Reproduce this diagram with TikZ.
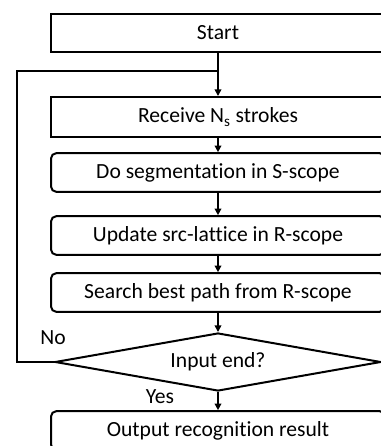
\documentclass[tikz,border=0pt]{standalone}
\usepackage{fontspec}
\setmainfont{Carlito}[Ligatures={NoCommon,NoRare,NoContextual}]
\usetikzlibrary{shapes.geometric,arrows.meta}
\tikzset{
  txt/.style={font=\fontsize{16.2pt}{19pt}\selectfont},
  boxsq/.style={draw, txt, line width=1.5pt, minimum width=250.5pt, minimum height=29pt, inner sep=0pt},
  boxrd/.style={boxsq, rounded corners=4pt},
  dec/.style={draw, txt, line width=1.5pt, diamond, aspect=6, inner sep=0pt, minimum width=244.5pt, minimum height=43.5pt},
  flow/.style={line width=1.2pt, -{Triangle[length=5pt,width=5pt]}},
  back/.style={line width=1pt},
  lbl/.style={txt, inner sep=0pt}
}
\begin{document}
\begin{tikzpicture}[x=0.75pt,y=-0.75pt]
\useasboundingbox (0,0) rectangle (380,446);
\node[boxsq] (start) at (218,33) {Start};
\node[boxsq, minimum height=30pt] (recv) at (218,117) {Receive N\textsubscript{s} strokes};
\node[boxrd] (seg) at (218,172.5) {Do segmentation in S-scope};
\node[boxrd] (upd) at (218,235.5) {Update src-lattice in R-scope};
\node[boxrd] (srch) at (218,292.5) {Search best path from R-scope};
\node[dec] (dec) at (218,362) {Input end?};
\node[boxrd] (out) at (218,430.5) {Output recognition result};
\coordinate (join) at (218,71);
\coordinate (lc) at (17,71);
\draw[flow] (start.south) -- (recv.north);
\draw[flow] (recv.south) -- (seg.north);
\draw[flow] (seg.south) -- (upd.north);
\draw[flow] (upd.south) -- (srch.north);
\draw[flow] (srch.south) -- (dec.north);
\draw[flow] (dec.south) -- (out.north);
\draw[back] (dec.west) -| (lc) -- (join);
\node[lbl] (no) at (53,338) {No};
\node[lbl] (yes) at (160,397) {Yes};
\end{tikzpicture}
\end{document}
